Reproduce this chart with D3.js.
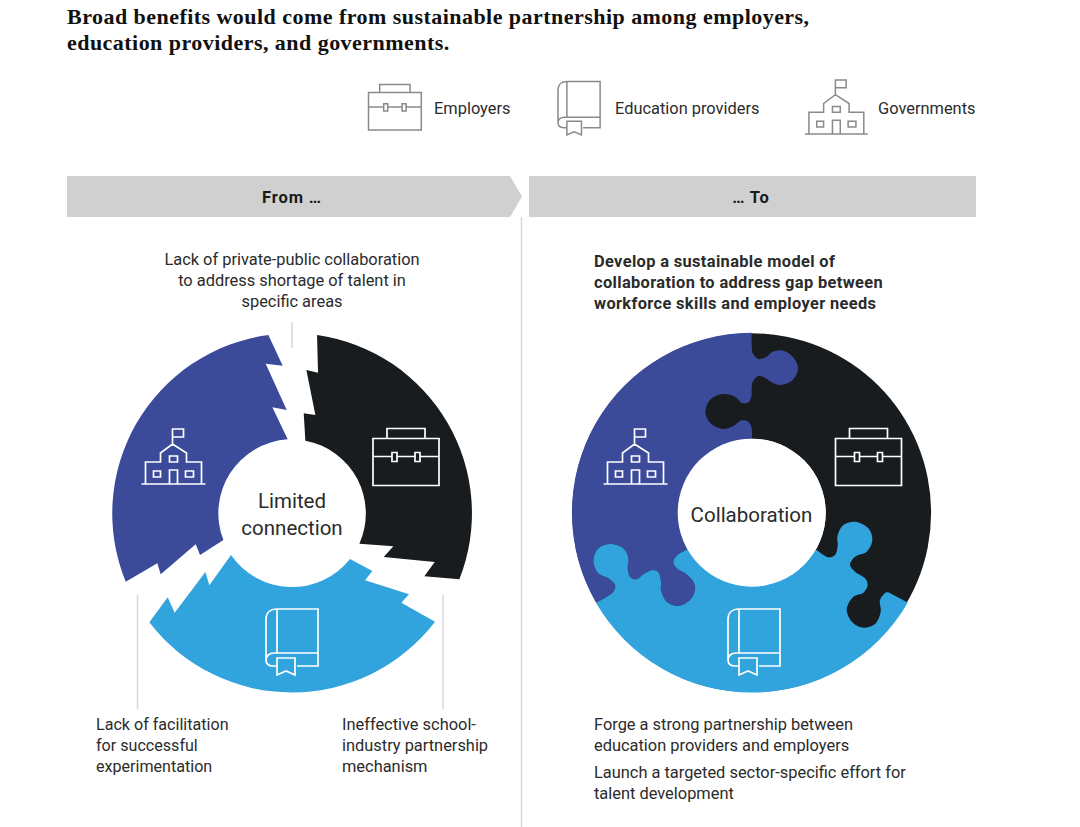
<!DOCTYPE html>
<html>
<head>
<meta charset="utf-8">
<script src="https://cdn.jsdelivr.net/npm/d3@7"></script>
<style>
  html, body { margin: 0; padding: 0; background: #fff; }
  svg { display: block; }
  text { font-family: Roboto, "Liberation Sans", sans-serif; fill: #2b2b2b; }
</style>
</head>
<body>
<svg id="chart" width="1080" height="827"></svg>
<script>
const titleLines = [
  'Broad benefits would come from sustainable partnership among employers,',
  'education providers, and governments.'
];
const legendLabels = ['Employers', 'Education providers', 'Governments'];
const headerLabels = ['From …', '… To'];
const centerLeft = ['Limited', 'connection'];
const centerRight = ['Collaboration'];
const noteTop = ['Lack of private-public collaboration', 'to address shortage of talent in', 'specific areas'];
const noteLowerLeft = ['Lack of facilitation', 'for successful', 'experimentation'];
const noteLowerRight = ['Ineffective school-', 'industry partnership', 'mechanism'];
const goalLines = ['Develop a sustainable model of', 'collaboration to address gap between', 'workforce skills and employer needs'];
const actionOne = ['Forge a strong partnership between', 'education providers and employers'];
const actionTwo = ['Launch a targeted sector-specific effort for', 'talent development'];

// outlines, in crop units (3 units = 1px, ring centre at 575,563)
const navyEdgeTop = [[505,30],[548,122],[497,116],[560,255],[517,247],[563,343]];
const navyEdgeLow = [[370,645],[300,690],[287,658],[182,748],[172,715],[77,770]];
const blackEdgeTop = [[651,30],[654,143],[619,135],[646,270],[611,265],[616,347]];
const blackEdgeLow = [[778,656],[880,664],[851,696],[1004,711],[973,754],[1078,763]];
const blueEdgeLeft = [[148,892],[203,817],[224,863],[316,741],[328,781],[393,690]];
const blueEdgeRight = [[750,702],[817,738],[795,766],[927,808],[904,833],[1005,890]];

const seamNavyBlack = [[575,23],[575,60],[578,85],[595,102],[620,95],[635,82],[662,76],[695,92],[714,128],[698,165],[662,180],[635,172],[615,158],[595,153],[578,170],[575,195],[574,215],[565,232],[545,233],[525,215],[488,207],[452,223],[436,260],[452,295],[488,312],[520,303],[545,286],[565,290],[575,310],[575,345]];
const seamNavyBlue = [[383,673],[350,692],[340,710],[350,730],[375,745],[400,770],[405,795],[390,825],[355,843],[320,830],[303,795],[303,770],[295,742],[278,735],[255,745],[228,763],[210,755],[203,730],[205,700],[190,670],[150,657],[115,670],[100,708],[115,745],[145,760],[165,780],[160,800],[108,833]];
const seamBlackBlue = [[770,675],[805,697],[825,690],[833,660],[832,635],[850,600],[885,590],[925,610],[937,645],[920,680],[885,695],[870,720],[885,740],[915,760],[923,780],[910,803],[880,815],[860,855],[880,895],[910,908],[945,897],[962,860],[960,825],[980,802],[1000,810],[1043,833]];

const NAVY = '#3c4a9a', BLACK = '#181c1f', BLUE = '#31a3dd', GREY = '#d0d0d0';
const R = 180, r = 74;

const svg = d3.select('#chart');

// title
svg.selectAll('.title').data(titleLines).join('text')
  .attr('class', 'title')
  .attr('x', 67).attr('y', (d, i) => 24 + i * 26)
  .style('font-family', '"Liberation Serif", serif')
  .style('font-weight', 700).style('font-size', '22px').style('letter-spacing', '0.46px').style('fill', '#111')
  .text(d => d);

// header bars and dividers
svg.append('path').attr('fill', GREY).attr('d', 'M67,176H510L522,196.5L510,217H67Z');
svg.append('rect').attr('x', 529).attr('y', 176).attr('width', 447).attr('height', 41).attr('fill', GREY);
svg.selectAll('.head').data(headerLabels).join('text')
  .attr('x', (d, i) => [292, 751][i]).attr('y', 202.5)
  .attr('text-anchor', 'middle')
  .style('font-weight', 700).style('font-size', '16.5px').style('letter-spacing', '0.9px').style('fill', '#1a1a1a')
  .text(d => d);

const rules = [[521.5, 217, 827], [292, 322, 348], [137.5, 595, 709], [443, 595, 709]];
svg.selectAll('.rule').data(rules).join('line')
  .attr('x1', d => d[0]).attr('x2', d => d[0])
  .attr('y1', d => d[1]).attr('y2', d => d[2])
  .attr('stroke', '#d8d8d8').attr('stroke-width', 1.5);

// icons, drawn in the size they have inside the rings
function briefcase(g) {
  g.append('path').attr('d', 'M0,10H66V57H0Z M14,10V0H52V10 M0,28H19 M24,28H42 M47,28H66 M19,24H24V33H19Z M42,24H47V33H42Z');
}
function book(g) {
  g.append('path').attr('d', 'M11,0H52V57H31 M11,0C4,0 0,4 0,10V51C0,55 3,57 7,57H11 M11,0V44 M52,44H8C3,44 0,47 0,51 M11,49H29V66L20,62L11,66Z');
}
function school(g) {
  g.append('path').attr('d', 'M31,15V0H42V8H31 M0,55H64 M4,55V33H19V24L31,15L45,24V33H60V55 M28,27H36V33H28Z M12,42H19V48H12Z M44,42H52V48H44Z M28,55V41H36V55');
}
function placeIcon(draw, x, y, k, color, width) {
  const g = svg.append('g')
    .attr('transform', `translate(${x},${y}) scale(${k})`)
    .attr('fill', 'none').attr('stroke', color)
    .attr('stroke-width', width / k);
  draw(g);
}

// legend
placeIcon(briefcase, 368.5, 84.5, 0.8, '#8a8a8a', 1.5);
placeIcon(book, 558, 81.5, 0.81, '#8a8a8a', 1.5);
placeIcon(school, 805, 80, 0.98, '#8a8a8a', 1.5);
svg.selectAll('.legend').data(legendLabels).join('text')
  .attr('x', (d, i) => [434, 615, 878][i]).attr('y', 113.6)
  .style('font-size', '16.4px')
  .text(d => d);

// rings
function ringScales(cx, cy) {
  return {
    x: d3.scaleLinear().domain([575 - 540, 575 + 540]).range([cx - R, cx + R]),
    y: d3.scaleLinear().domain([563 - 540, 563 + 540]).range([cy - R, cy + R])
  };
}

function drawBrokenRing(cx, cy) {
  const s = ringScales(cx, cy);
  const straight = pts => pts.map(p => `${s.x(p[0])},${s.y(p[1])}`).join('L');
  const at = p => `${s.x(p[0])},${s.y(p[1])}`;
  const piece = (edgeA, edgeB, innerSweep, outerSweep) =>
    `M${straight(edgeA)}A${r},${r} 0 0 ${innerSweep} ${at(edgeB[0])}L${straight(edgeB)}A${R},${R} 0 0 ${outerSweep} ${at(edgeA[0])}Z`;
  svg.append('path').attr('fill', NAVY).attr('d', piece(navyEdgeTop, navyEdgeLow, 0, 1));
  svg.append('path').attr('fill', BLACK).attr('d', piece(blackEdgeTop, blackEdgeLow, 1, 0));
  svg.append('path').attr('fill', BLUE).attr('d', piece(blueEdgeLeft, blueEdgeRight, 0, 1));
}

function drawPuzzleRing(cx, cy) {
  const s = ringScales(cx, cy);
  const seam = d3.line().x(p => s.x(p[0])).y(p => s.y(p[1])).curve(d3.curveCatmullRom.alpha(0.5));
  const at = p => `${s.x(p[0])},${s.y(p[1])}`;
  const joined = pts => 'L' + seam(pts).slice(1);
  // black base sits a hair inside the rim so it does not fringe the other two pieces
  const ring = d3.arc().innerRadius(r).outerRadius(R - 0.6).startAngle(0).endAngle(2 * Math.PI);
  svg.append('path').attr('transform', `translate(${cx},${cy})`).attr('fill', BLACK).attr('d', ring());

  const navyEnd = seamNavyBlue[seamNavyBlue.length - 1];
  svg.append('path').attr('fill', NAVY)
    .attr('d', seam(seamNavyBlack) + joined(seamNavyBlue) + `A${R},${R} 0 0 1 ${at(seamNavyBlack[0])}Z`);
  svg.append('path').attr('fill', BLUE)
    .attr('d', seam(seamNavyBlue.slice().reverse()) + joined(seamBlackBlue) + `A${R},${R} 0 0 1 ${at(navyEnd)}Z`);
  svg.append('circle').attr('cx', cx).attr('cy', cy).attr('r', r).attr('fill', '#fff');
}

drawBrokenRing(291.7, 512.7);
drawPuzzleRing(751.7, 512.7);

placeIcon(school, 141.5, 429, 1, '#fff', 1.7);
placeIcon(briefcase, 373, 428.5, 1, '#fff', 1.7);
placeIcon(book, 266, 609, 1, '#fff', 1.7);
placeIcon(school, 603.5, 429, 1, '#fff', 1.7);
placeIcon(briefcase, 835.5, 428.5, 1, '#fff', 1.7);
placeIcon(book, 728, 609, 1, '#fff', 1.7);

// text blocks
function block(lines, x, y, step, anchor, size, weight, spacing) {
  svg.append('g').selectAll('text').data(lines).join('text')
    .attr('x', x).attr('y', (d, i) => y + i * step)
    .attr('text-anchor', anchor)
    .style('font-size', size + 'px').style('font-weight', weight)
    .style('letter-spacing', (spacing || 0) + 'px')
    .text(d => d);
}
block(centerLeft, 292, 508, 27, 'middle', 20.5, 400);
block(centerRight, 751.5, 522, 27, 'middle', 20.5, 400);
block(noteTop, 292, 264.6, 21, 'middle', 16.4, 400);
block(noteLowerLeft, 96, 729.7, 21, 'start', 16.1, 400);
block(noteLowerRight, 342, 729.7, 21, 'start', 16.4, 400);
block(goalLines, 594, 266.6, 21, 'start', 16.4, 700, 0.36);
block(actionOne, 594, 729.7, 21, 'start', 16.4, 400);
block(actionTwo, 594, 777.7, 21, 'start', 16.4, 400);
</script>
</body>
</html>
